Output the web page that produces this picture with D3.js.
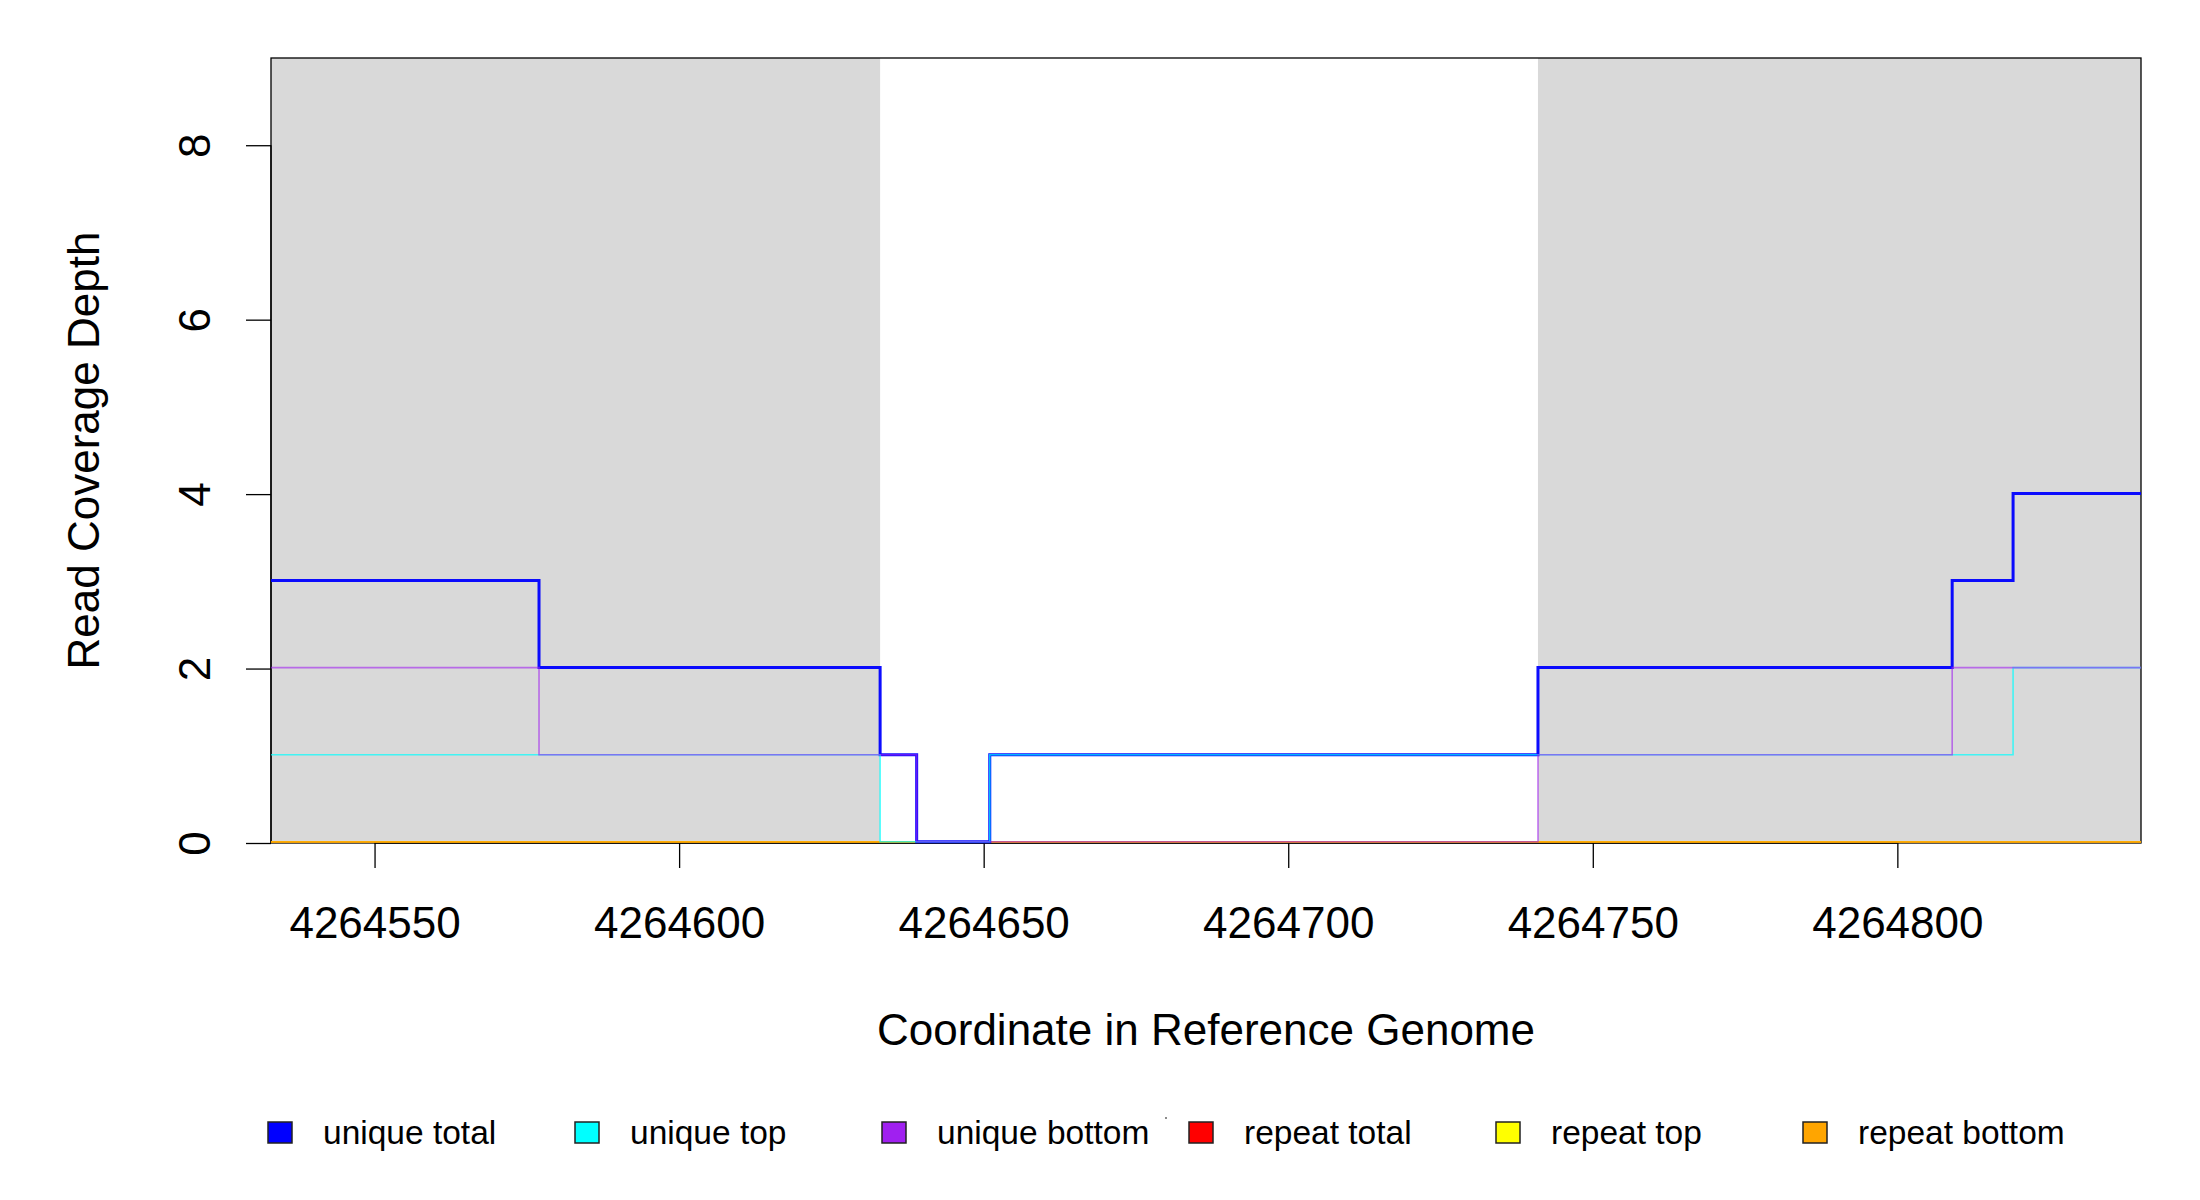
<!DOCTYPE html>
<html>
<head>
<meta charset="utf-8">
<script src="https://cdn.jsdelivr.net/npm/d3@7/dist/d3.min.js"></script>
<style>
  html, body { margin: 0; padding: 0; background: #ffffff; }
  svg { display: block; font-family: "Liberation Sans", Arial, sans-serif; }
</style>
</head>
<body>
<svg id="chart" width="2200" height="1200"></svg>
<script>
// ---- data ----
const xDomain = [4264533, 4264840];
const yDomain = [0, 9];
const xTicks = [4264550, 4264600, 4264650, 4264700, 4264750, 4264800];
const yTicks = [0, 2, 4, 6, 8];
// shaded (grey) regions
const shadeStart = [4264533, 4264741];
const shadeEnd   = [4264633, 4264840];
// step positions (value holds from position until next position)
const positions     = [4264533, 4264577, 4264633, 4264639, 4264651, 4264741, 4264809, 4264819, 4264840];
const uniqueTotal   = [3, 2, 1, 0, 1, 2, 3, 4, 4];
const uniqueTop     = [1, 1, 0, 0, 1, 1, 1, 2, 2];
const uniqueBottom  = [2, 1, 1, 0, 0, 1, 2, 2, 2];
const repeatTotal   = [0, 0, 0, 0, 0, 0, 0, 0, 0];
const repeatTop     = [0, 0, 0, 0, 0, 0, 0, 0, 0];
const repeatBottom  = [0, 0, 0, 0, 0, 0, 0, 0, 0];
const seriesNames   = ["unique total", "unique top", "unique bottom", "repeat total", "repeat top", "repeat bottom"];
const seriesColors  = ["#0000FF", "#00FFFF", "#A020F0", "#FF0000", "#FFFF00", "#FFA500"];
const xTitle = "Coordinate in Reference Genome";
const yTitle = "Read Coverage Depth";

// ---- layout ----
const svg = d3.select("#chart");
const L = 271, R = 2141, T = 58, B = 843;
const x = d3.scaleLinear().domain(xDomain).range([L, R]);
const y = d3.scaleLinear().domain(yDomain).range([B, T]);
const yLine = d3.scaleLinear().domain(yDomain).range([B - 1.2, T]);

// shaded regions
svg.append("g").selectAll("rect").data(shadeStart.map((s, i) => [s, shadeEnd[i]]))
  .join("rect")
  .attr("x", d => x(d[0])).attr("y", T)
  .attr("width", d => x(d[1]) - x(d[0])).attr("height", B - T)
  .attr("fill", "#D9D9D9");

// box
svg.append("rect").attr("x", L).attr("y", T).attr("width", R - L).attr("height", B - T)
  .attr("fill", "none").attr("stroke", "#000").attr("stroke-width", 1.3);

// x axis
const xAxis = d3.axisBottom(x).tickValues(xTicks).tickSize(25).tickPadding(0).tickFormat(d3.format("d"));
const gx = svg.append("g").attr("transform", `translate(0,${B})`).call(xAxis);
gx.select(".domain").attr("d", `M${x(xTicks[0])},0H${x(xTicks[xTicks.length - 1])}`).attr("stroke-width", 1.3);
gx.selectAll(".tick line").attr("stroke", "#000").attr("stroke-width", 1.3);
gx.selectAll(".tick text").attr("font-size", 44).attr("fill", "#000")
  .attr("font-family", "Liberation Sans, Arial, sans-serif")
  .attr("y", 95).attr("dy", null);

// y axis
const yAxis = d3.axisLeft(y).tickValues(yTicks).tickSize(25).tickFormat(d3.format("d"));
const gy = svg.append("g").attr("transform", `translate(${L},0)`).call(yAxis);
gy.select(".domain").attr("d", `M0,${y(yTicks[0])}V${y(yTicks[yTicks.length - 1])}`).attr("stroke-width", 1.3);
gy.selectAll(".tick line").attr("stroke", "#000").attr("stroke-width", 1.3);
gy.selectAll(".tick text")
  .attr("font-size", 44).attr("fill", "#000")
  .attr("font-family", "Liberation Sans, Arial, sans-serif")
  .attr("x", null).attr("dy", null)
  .attr("text-anchor", "middle")
  .attr("transform", `translate(${210 - L},0) rotate(-90)`);

// step lines (repeat series first, unique series on top, semi-transparent)
const allSeries = [uniqueTotal, uniqueTop, uniqueBottom, repeatTotal, repeatTop, repeatBottom];
const widths = [3, 1.6, 1.6, 1.8, 1.8, 1.8];
const opac = [0.95, 0.7, 0.6, 0.7, 0.7, 0.8];
const drawOrder = [3, 4, 5, 0, 1, 2];
const line = d3.line().x(d => x(d[0])).y(d => yLine(d[1])).curve(d3.curveStepAfter);
const gLines = svg.append("g");
drawOrder.forEach(i => {
  gLines.append("path")
    .attr("d", line(positions.map((p, j) => [p, allSeries[i][j]])))
    .attr("fill", "none")
    .attr("stroke", seriesColors[i])
    .attr("stroke-width", widths[i])
    .attr("stroke-opacity", opac[i]);
});

// titles
svg.append("text").attr("x", (L + R) / 2).attr("y", 1045)
  .attr("text-anchor", "middle").attr("font-size", 44).attr("fill", "#000").text(xTitle);
svg.append("text").attr("transform", `translate(99,${(T + B) / 2}) rotate(-90)`)
  .attr("text-anchor", "middle").attr("font-size", 44).attr("fill", "#000").text(yTitle);

// legend
const legX = d3.scaleLinear().domain([0, 5]).range([268, 1803]);
const leg = svg.append("g").selectAll("g").data(seriesNames).join("g")
  .attr("transform", (d, i) => `translate(${legX(i)},0)`);
leg.append("rect").attr("x", 0).attr("y", 1122).attr("width", 24).attr("height", 21)
  .attr("fill", (d, i) => seriesColors[i]).attr("stroke", "#222").attr("stroke-width", 1.5);
leg.append("text").attr("x", 55).attr("y", 1144).attr("font-size", 33.5).attr("fill", "#000").text(d => d);
// small stray dot in legend
svg.append("circle").attr("cx", 1166).attr("cy", 1118).attr("r", 1).attr("fill", "#666");
</script>
</body>
</html>
